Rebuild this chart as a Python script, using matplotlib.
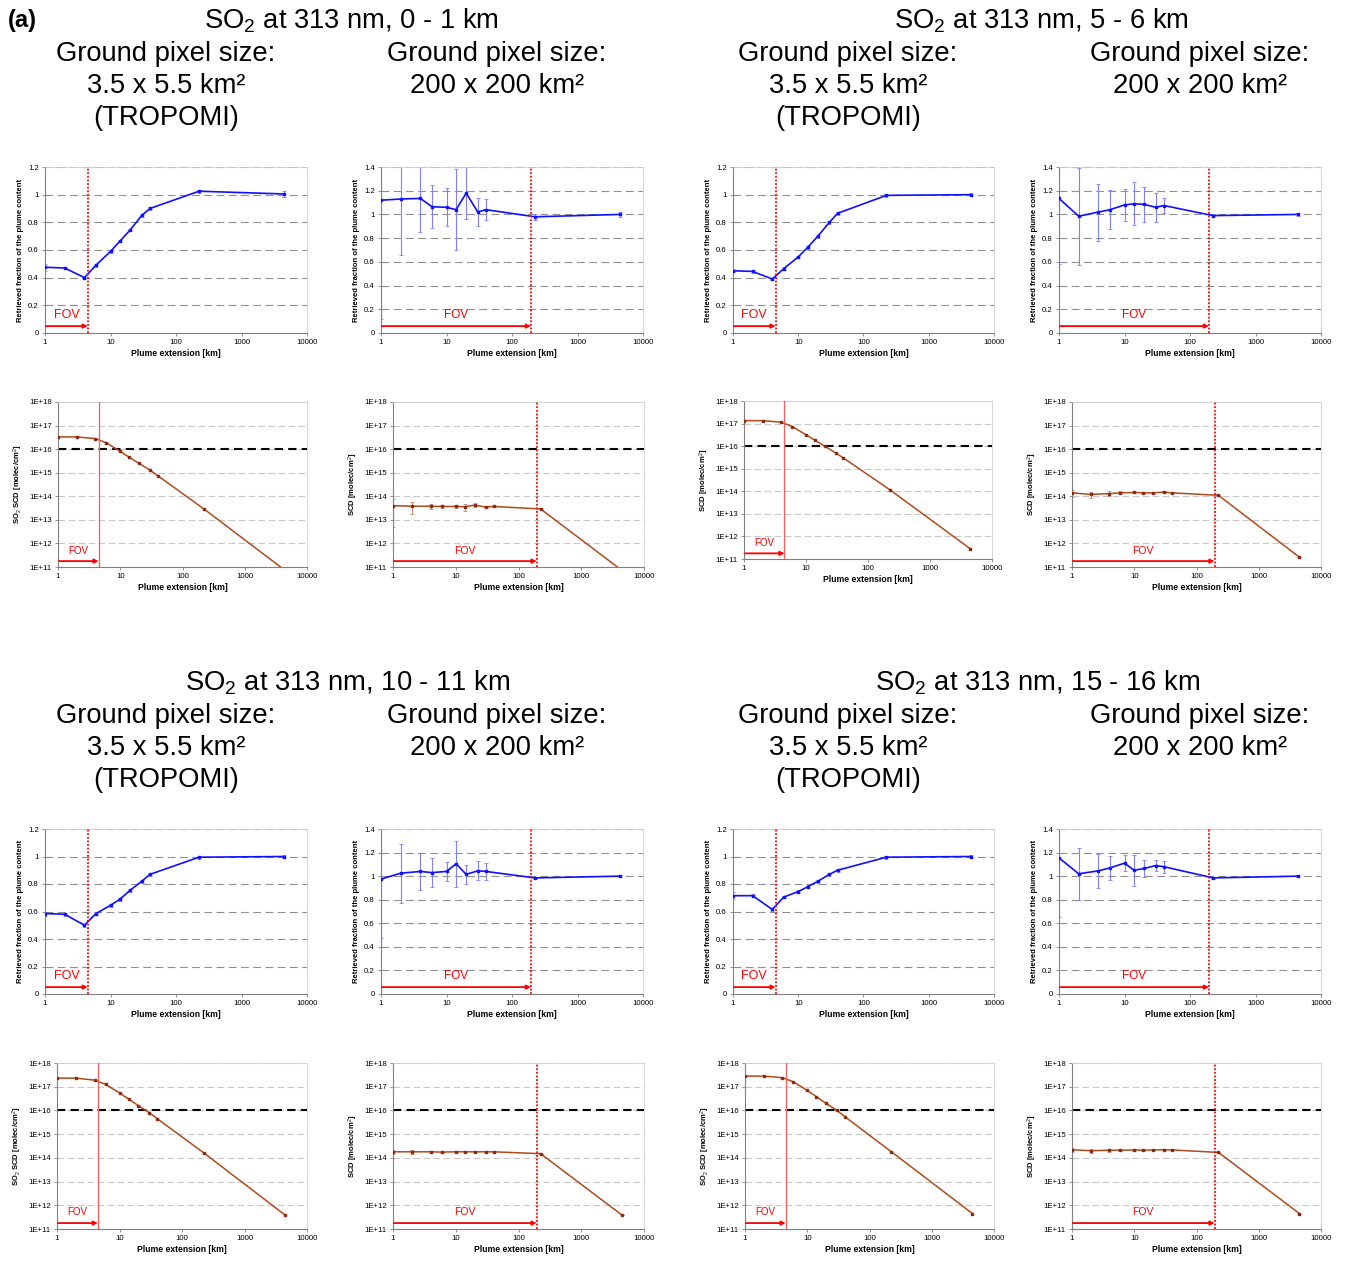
import numpy as np
import matplotlib
matplotlib.use("Agg")
import matplotlib.pyplot as plt
from matplotlib.ticker import FixedLocator, FuncFormatter, NullLocator

plt.rcParams["font.family"] = ["Liberation Sans", "DejaVu Sans"]
plt.rcParams["mathtext.fontset"] = "custom"
plt.rcParams["mathtext.rm"] = "Liberation Sans"
plt.rcParams["mathtext.it"] = "Liberation Sans:italic"
plt.rcParams["mathtext.bf"] = "Liberation Sans:bold"

W, H = 1346, 1261

# plume extensions [km]
extension = [1, 2, 4, 6, 10, 14, 20, 30, 40, 225, 4500]
fov_tropomi = 4.5
fov_large = 195

# retrieved fraction of the plume content
frac_0_1_trop = [0.475, 0.47, 0.40, 0.49, 0.59, 0.665, 0.745, 0.85, 0.90, 1.025, 1.005]
frac_0_1_trop_err = [0.025, 0.01, 0.01, 0.01, 0.01, 0.01, 0.01, 0.01, 0.01, 0.01, 0.025]
frac_0_1_big = [1.12, 1.13, 1.135, 1.065, 1.06, 1.04, 1.18, 1.02, 1.04, 0.98, 1.0]
frac_0_1_big_err = [1.0, 0.47, 0.285, 0.18, 0.16, 0.34, 0.22, 0.12, 0.09, 0.025, 0.02]

frac_5_6_trop = [0.45, 0.445, 0.39, 0.465, 0.55, 0.62, 0.70, 0.80, 0.865, 0.995, 1.0]
frac_5_6_trop_err = [0.01, 0.01, 0.01, 0.01, 0.01, 0.01, 0.01, 0.01, 0.01, 0.01, 0.01]
frac_5_6_big = [1.135, 0.985, 1.02, 1.04, 1.08, 1.09, 1.085, 1.06, 1.075, 0.99, 1.0]
frac_5_6_big_err = [0.55, 0.41, 0.24, 0.165, 0.135, 0.18, 0.15, 0.12, 0.06, 0.015, 0.01]

frac_10_11_trop = [0.585, 0.58, 0.50, 0.585, 0.645, 0.69, 0.755, 0.82, 0.87, 0.995, 1.0]
frac_10_11_trop_err = [0.015, 0.01, 0.01, 0.01, 0.01, 0.01, 0.01, 0.01, 0.01, 0.01, 0.01]
frac_10_11_big = [0.975, 1.025, 1.04, 1.03, 1.04, 1.105, 1.015, 1.045, 1.04, 0.985, 1.0]
frac_10_11_big_err = [0.5, 0.25, 0.155, 0.12, 0.08, 0.195, 0.08, 0.08, 0.075, 0.01, 0.01]

frac_15_16_trop = [0.715, 0.715, 0.615, 0.705, 0.745, 0.78, 0.82, 0.87, 0.90, 0.995, 1.0]
frac_15_16_trop_err = [0.025, 0.01, 0.01, 0.01, 0.01, 0.01, 0.01, 0.01, 0.01, 0.01, 0.01]
frac_15_16_big = [1.155, 1.02, 1.045, 1.07, 1.11, 1.05, 1.065, 1.09, 1.08, 0.985, 1.0]
frac_15_16_big_err = [0.5, 0.22, 0.145, 0.1, 0.07, 0.13, 0.075, 0.05, 0.05, 0.01, 0.01]

# SO2 slant column densities [molec/cm2]
scd_0_1_trop = [3.3e16, 3.3e16, 2.8e16, 1.85e16, 8e15, 4.5e15, 2.5e15, 1.3e15, 7.5e14, 2.8e13, 7e10]
scd_0_1_big = [4e13, 3.8e13, 3.8e13, 3.7e13, 3.7e13, 3.6e13, 4.2e13, 3.5e13, 3.7e13, 2.9e13, 7e10]
scd_0_1_big_err = [3.5e13, 2e13, 1e13, 0.6e13, 0.6e13, 1.2e13, 0.8e13, 0.3e13, 0.3e13, 0, 0]

scd_5_6_trop = [1.35e17, 1.35e17, 1.15e17, 7.4e16, 3.2e16, 1.8e16, 1.0e16, 5e15, 3e15, 1.17e14, 2.8e11]
scd_5_6_big = [1.4e14, 1.2e14, 1.3e14, 1.4e14, 1.45e14, 1.4e14, 1.4e14, 1.5e14, 1.4e14, 1.1e14, 2.6e11]
scd_5_6_big_err = [0.5e14, 0.35e14, 0.3e14, 0.2e14, 0.1e14, 0.1e14, 0.1e14, 0.1e14, 0.05e14, 0, 0]

scd_10_11_trop = [2.3e17, 2.3e17, 1.9e17, 1.25e17, 5.5e16, 3e16, 1.6e16, 8e15, 4.5e15, 1.6e14, 3.8e11]
scd_10_11_big = [1.8e14, 1.8e14, 1.8e14, 1.75e14, 1.8e14, 1.8e14, 1.8e14, 1.8e14, 1.8e14, 1.5e14, 3.8e11]
scd_10_11_big_err = [0.4e14, 0.3e14, 0.2e14, 0.1e14, 0.1e14, 0.1e14, 0.1e14, 0.1e14, 0.1e14, 0, 0]

scd_15_16_trop = [2.8e17, 2.8e17, 2.4e17, 1.6e17, 7e16, 3.8e16, 2e16, 1e16, 5.5e15, 1.8e14, 4.5e11]
scd_15_16_big = [2.2e14, 2.0e14, 2.1e14, 2.1e14, 2.15e14, 2.1e14, 2.15e14, 2.2e14, 2.15e14, 1.7e14, 4.5e11]
scd_15_16_big_err = [0.5e14, 0.35e14, 0.3e14, 0.2e14, 0.15e14, 0.1e14, 0.1e14, 0.1e14, 0.1e14, 0, 0]

scd_threshold = 1e16

BLUE = "#1010ff"
BLUE_ERR = "#7f7fff"
BROWN = "#b04a1a"
BROWN_MK = "#8a2a10"


def axes_at(fig, box):
    x0, x1, ytop, ybot = box
    return fig.add_axes([x0 / W, 1 - ybot / H, (x1 - x0) / W, (ybot - ytop) / H])


def style_common(ax):
    ax.set_xscale("log")
    ax.set_xlim(1, 10000)
    ax.xaxis.set_major_locator(FixedLocator([1, 10, 100, 1000, 10000]))
    ax.xaxis.set_minor_locator(NullLocator())
    ax.xaxis.set_major_formatter(FuncFormatter(lambda v, p: "%d" % round(v)))
    ax.tick_params(labelsize=5.6, length=2.5, width=0.6, color="#808080", pad=2)
    for s in ("left", "bottom"):
        ax.spines[s].set_color("#808080")
        ax.spines[s].set_linewidth(0.8)
    for s in ("top", "right"):
        ax.spines[s].set_color("#d0d0d0")
        ax.spines[s].set_linewidth(0.6)
    ax.set_xlabel("Plume extension [km]", fontsize=6.2, fontweight="bold", labelpad=2)


def fov_marker(ax, fov, y_arrow, y_text, fs, vstyle):
    ax.axvline(fov, **vstyle)
    ax.annotate("", xy=(fov, y_arrow), xytext=(1.03, y_arrow),
                arrowprops=dict(arrowstyle="-|>", color="red", lw=1.3,
                                mutation_scale=6, shrinkA=0, shrinkB=0))
    ax.text(np.sqrt(fov), y_text, "FOV", color="red", fontsize=fs,
            ha="center", va="center")


def fraction_panel(ax, y, err, fov, ymax, fs):
    style_common(ax)
    ax.set_ylim(0, ymax)
    ax.yaxis.set_major_locator(FixedLocator(np.arange(0, ymax + 0.01, 0.2)))
    ax.yaxis.set_major_formatter(FuncFormatter(lambda v, p: "%g" % round(v, 1)))
    for g in np.arange(0.2, ymax + 0.01, 0.2):
        ax.axhline(g, color="#909090", lw=0.8, dashes=(7, 4), zorder=0)
    ax.errorbar(extension, y, yerr=err, fmt="none", ecolor=BLUE_ERR,
                elinewidth=0.8, capsize=1.5, capthick=0.6, zorder=2)
    ax.plot(extension, y, color=BLUE, lw=1.2, marker="s", ms=1.8, zorder=3)
    ax.set_ylabel("Retrieved fraction of the plume content", fontsize=5.5,
                  fontweight="bold", labelpad=3)
    vstyle = dict(color="red", ls=(0, (1, 1)), lw=1.3, zorder=4)
    fov_marker(ax, fov, 0.05 * ymax / 1.2, 0.13 * ymax / 1.2, fs, vstyle)


def scd_panel(ax, y, err, fov, ylabel, fs, thin_line):
    style_common(ax)
    ax.set_yscale("log")
    ax.set_ylim(1e11, 1e18)
    ax.yaxis.set_major_locator(FixedLocator([10.0 ** k for k in range(11, 19)]))
    ax.yaxis.set_minor_locator(NullLocator())
    ax.yaxis.set_major_formatter(FuncFormatter(lambda v, p: "1E+%d" % round(np.log10(v))))
    for k in range(12, 19):
        ax.axhline(10.0 ** k, color="#c8c8c8", lw=0.8, dashes=(6, 3), zorder=0)
    ax.axhline(scd_threshold, color="black", lw=1.5, dashes=(4, 2.5), zorder=1)
    if err is not None:
        ax.errorbar(extension, y, yerr=err, fmt="none", ecolor="#d08a6a",
                    elinewidth=0.8, capsize=1.5, capthick=0.6, zorder=2)
    ax.plot(extension, y, color=BROWN, lw=1.1, marker="s", ms=1.6,
            mec=BROWN_MK, mfc=BROWN_MK, zorder=3)
    ax.set_ylabel(ylabel, fontsize=5.5, fontweight="bold", labelpad=3)
    if thin_line:
        vstyle = dict(color="#ff5a5a", lw=0.9, zorder=4)
    else:
        vstyle = dict(color="red", ls=(0, (1, 1)), lw=1.3, zorder=4)
    fov_marker(ax, fov, 10 ** 11.25, 10 ** 11.7, fs, vstyle)


fig = plt.figure(figsize=(W / 100, H / 100), dpi=100)

label_so2 = "SO$_2$ SCD [molec/cm$^2$]"
label_scd = "SCD [molec/cm$^2$]"

groups = [
    dict(title="SO$_2$ at 313 nm, 0 - 1 km", tx=351, ty=20, cx=(166, 497),
         boxes=[(45, 307, 167, 333), (381, 643, 167, 333), (58, 307, 402, 567), (393, 644, 402, 567)],
         ft=(frac_0_1_trop, frac_0_1_trop_err), fb=(frac_0_1_big, frac_0_1_big_err),
         st=scd_0_1_trop, sb=(scd_0_1_big, scd_0_1_big_err), st_label=label_so2),
    dict(title="SO$_2$ at 313 nm, 5 - 6 km", tx=1041, ty=20, cx=(848, 1200),
         boxes=[(733, 994, 167, 333), (1059, 1321, 167, 333), (744, 992, 401, 559), (1072, 1321, 402, 567)],
         ft=(frac_5_6_trop, frac_5_6_trop_err), fb=(frac_5_6_big, frac_5_6_big_err),
         st=scd_5_6_trop, sb=(scd_5_6_big, scd_5_6_big_err), st_label=label_scd),
    dict(title="SO$_2$ at 313 nm, 10 - 11 km", tx=348, ty=682, cx=(166, 497),
         boxes=[(45, 307, 829, 994), (381, 643, 829, 994), (57, 307, 1063, 1229), (393, 644, 1063, 1229)],
         ft=(frac_10_11_trop, frac_10_11_trop_err), fb=(frac_10_11_big, frac_10_11_big_err),
         st=scd_10_11_trop, sb=(scd_10_11_big, scd_10_11_big_err), st_label=label_so2),
    dict(title="SO$_2$ at 313 nm, 15 - 16 km", tx=1038, ty=682, cx=(848, 1200),
         boxes=[(733, 994, 829, 994), (1059, 1321, 829, 994), (745, 994, 1063, 1229), (1072, 1321, 1063, 1229)],
         ft=(frac_15_16_trop, frac_15_16_trop_err), fb=(frac_15_16_big, frac_15_16_big_err),
         st=scd_15_16_trop, sb=(scd_15_16_big, scd_15_16_big_err), st_label=label_so2),
]

fig.text(8 / W, 1 - 21 / H, "(a)", fontsize=17, fontweight="bold", ha="left", va="center")

for g in groups:
    fig.text(g["tx"] / W, 1 - (g["ty"] + 1) / H, g["title"], fontsize=19.7, ha="center", va="center")
    lines_trop = ["Ground pixel size:", "3.5 x 5.5 km²", "(TROPOMI)"]
    lines_big = ["Ground pixel size:", "200 x 200 km²"]
    for i, t in enumerate(lines_trop):
        fig.text(g["cx"][0] / W, 1 - (g["ty"] + 2 + 32 * (i + 1)) / H, t,
                 fontsize=19.7, ha="center", va="center")
    for i, t in enumerate(lines_big):
        fig.text(g["cx"][1] / W, 1 - (g["ty"] + 2 + 32 * (i + 1)) / H, t,
                 fontsize=19.7, ha="center", va="center")

    ax = axes_at(fig, g["boxes"][0])
    fraction_panel(ax, g["ft"][0], g["ft"][1], fov_tropomi, 1.2, 9)
    ax = axes_at(fig, g["boxes"][1])
    fraction_panel(ax, g["fb"][0], g["fb"][1], fov_large, 1.4, 8.5)
    ax = axes_at(fig, g["boxes"][2])
    scd_panel(ax, g["st"], None, fov_tropomi, g["st_label"], 7, True)
    ax = axes_at(fig, g["boxes"][3])
    scd_panel(ax, g["sb"][0], g["sb"][1], fov_large, label_scd, 7.5, False)

fig.savefig("out.png", dpi=100, facecolor="white")
